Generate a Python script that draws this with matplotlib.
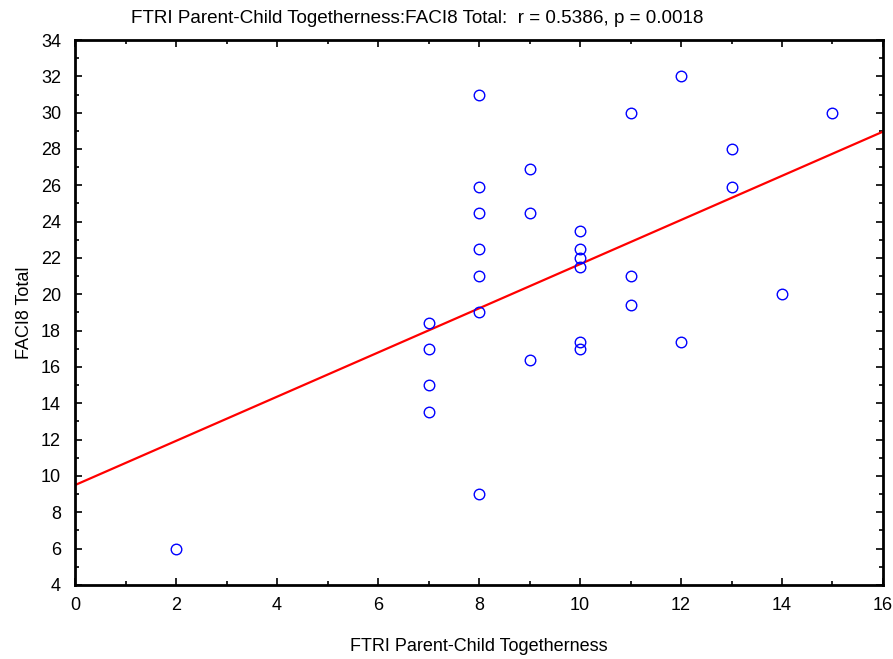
import numpy as np
import matplotlib
matplotlib.use("Agg")
import matplotlib.pyplot as plt
from matplotlib.ticker import MultipleLocator

plt.rcParams['font.family'] = ['Liberation Sans', 'DejaVu Sans']

# FTRI Parent-Child Togetherness vs FACI8 Total
togetherness = [2, 7, 7, 7, 7, 8, 8, 8, 8, 8, 8, 8, 9, 9, 9,
                10, 10, 10, 10, 10, 10, 11, 11, 11, 12, 12, 13, 13, 14, 15]
faci8_total = [6.0, 18.4, 17.0, 15.0, 13.5, 31.0, 25.9, 24.5, 22.5, 21.0, 19.0, 9.0, 26.9, 24.5, 16.4,
               23.5, 22.5, 22.0, 21.5, 17.4, 17.0, 30.0, 21.0, 19.4, 32.0, 17.4, 28.0, 25.9, 20.0, 30.0]

# Least-squares line reported with the correlation
fit_intercept = 9.5
fit_slope = 1.216

x_label = "FTRI Parent-Child Togetherness"
y_label = "FACI8 Total"
title = "FTRI Parent-Child Togetherness:FACI8 Total:  r = 0.5386, p = 0.0018"

fig = plt.figure(figsize=(8.93, 6.59), dpi=100)
ax = fig.add_axes([0.084, 0.1123, 0.9048, 0.827])

xs = np.array([0.0, 16.0])
ax.plot(xs, fit_intercept + fit_slope * xs, color='#ff0000', lw=1.6, zorder=2)
ax.plot(togetherness, faci8_total, linestyle='none', marker='o', markersize=7.6,
        markerfacecolor='none', markeredgecolor='#0000ff', markeredgewidth=1.0, zorder=3)

ax.set_xlim(0, 16)
ax.set_ylim(4, 34)
ax.xaxis.set_major_locator(MultipleLocator(2))
ax.xaxis.set_minor_locator(MultipleLocator(1))
ax.yaxis.set_major_locator(MultipleLocator(2))
ax.yaxis.set_minor_locator(MultipleLocator(1))
ax.tick_params(which='both', direction='in', top=True, right=True, labelsize=13, width=1.2)
ax.tick_params(which='major', length=5)
ax.tick_params(which='minor', length=3)
ax.tick_params(axis='x', pad=9)
ax.tick_params(axis='y', pad=10)
for s in ax.spines.values():
    s.set_linewidth(2)

ax.set_xlabel(x_label, fontsize=13, labelpad=17)
ax.set_ylabel(y_label, fontsize=13, labelpad=6)
fig.text(0.467, 0.972, title, fontsize=13.6, ha='center', va='center')

fig.savefig("out.png", dpi=100)
